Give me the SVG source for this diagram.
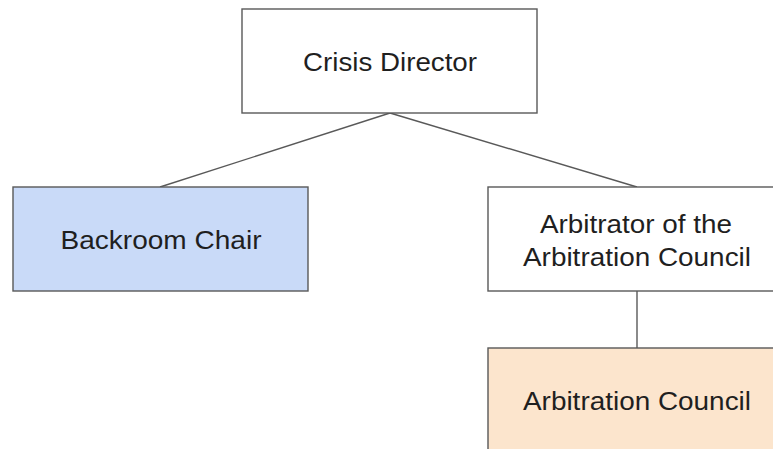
<svg xmlns="http://www.w3.org/2000/svg" width="773" height="449" viewBox="0 0 773 449">
<style>
.box{stroke:#595959;stroke-width:1.4}
.t{font-family:"Liberation Sans",Arial,sans-serif;font-size:25px;fill:#1f1f1f;text-anchor:middle}
.c{stroke:#595959;stroke-width:1.4;fill:none}
</style>
<rect width="773" height="449" fill="#ffffff"/>
<g id="connectors">
<line class="c" x1="390" y1="113" x2="160" y2="187"/>
<line class="c" x1="390" y1="113" x2="637" y2="187"/>
<line class="c" x1="637" y1="291" x2="637" y2="348"/>
</g>
<g id="crisis-director">
<rect class="box" x="242" y="9" width="295" height="104" fill="#ffffff"/>
<text class="t" x="390" y="71" textLength="174" lengthAdjust="spacingAndGlyphs">Crisis Director</text>
</g>
<g id="backroom-chair">
<rect class="box" x="13" y="187" width="295" height="104" fill="#c9daf8"/>
<text class="t" x="161" y="249" textLength="201" lengthAdjust="spacingAndGlyphs">Backroom Chair</text>
</g>
<g id="arbitrator">
<rect class="box" x="488" y="187" width="295" height="104" fill="#ffffff"/>
<text class="t" x="636" y="233" textLength="192" lengthAdjust="spacingAndGlyphs">Arbitrator of the</text>
<text class="t" x="637" y="266" textLength="228" lengthAdjust="spacingAndGlyphs">Arbitration Council</text>
</g>
<g id="arbitration-council">
<rect class="box" x="488" y="348" width="295" height="104" fill="#fce5cd"/>
<text class="t" x="637" y="410" textLength="228" lengthAdjust="spacingAndGlyphs">Arbitration Council</text>
</g>
</svg>
